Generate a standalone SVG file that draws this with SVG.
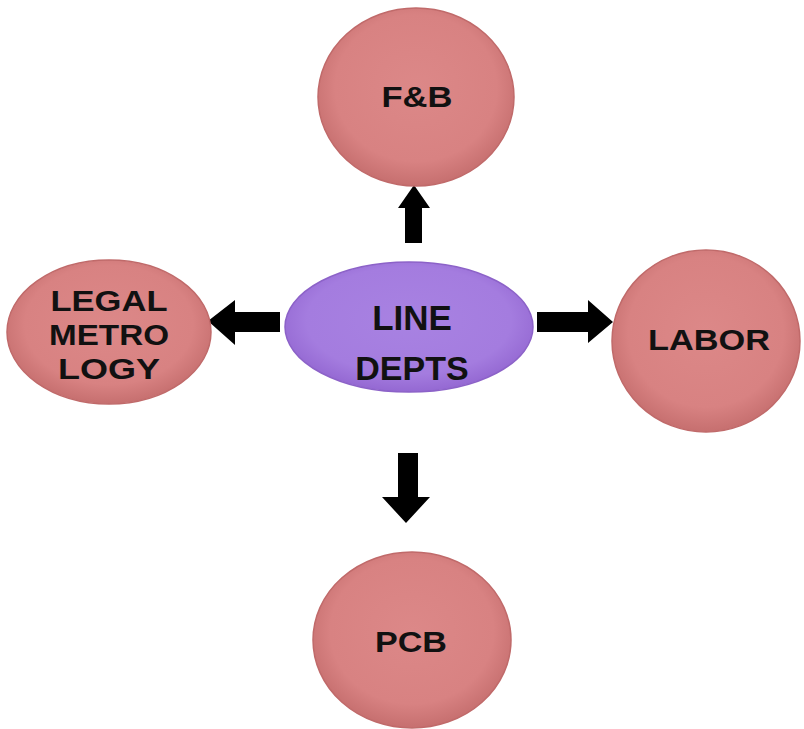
<svg xmlns="http://www.w3.org/2000/svg" width="804" height="729" viewBox="0 0 804 729">
<defs>
<radialGradient id="pink" cx="50%" cy="45%" r="55%">
<stop offset="0" stop-color="#dc8888"/>
<stop offset="0.75" stop-color="#d88282"/>
<stop offset="1" stop-color="#c66f6f"/>
</radialGradient>
<radialGradient id="purple" cx="50%" cy="45%" r="55%">
<stop offset="0" stop-color="#a882e2"/>
<stop offset="0.75" stop-color="#a47cdf"/>
<stop offset="1" stop-color="#9468d2"/>
</radialGradient>
</defs>
<style>
.p{fill:url(#pink);stroke:#c06a6a;stroke-width:1.5}
.c{fill:url(#purple);stroke:#8c62c8;stroke-width:1.5}
.t{font-family:"Liberation Sans",Arial,sans-serif;font-weight:bold;fill:#111;text-anchor:middle}
.a{fill:#000}
</style>
<rect width="804" height="729" fill="#fff"/>
<g id="connectors">
<polygon class="a" points="405,243 422,243 422,208 430,208 414,185 398,208 405,208"/>
<polygon class="a" points="280,312 280,332 235,332 235,345 208,321 235,300 235,312"/>
<polygon class="a" points="537,312 588,312 588,300 613,322 588,343 588,332 537,332"/>
<polygon class="a" points="398,453 418,453 418,497 430,497 406,523 382,497 398,497"/>
</g>
<g id="fb">
<ellipse class="p" cx="416" cy="97" rx="98" ry="89"/>
<text class="t" x="417" y="107" font-size="30" textLength="71" lengthAdjust="spacingAndGlyphs">F&amp;B</text>
</g>
<g id="legal">
<ellipse class="p" cx="109" cy="332" rx="102" ry="72"/>
<text class="t" x="109" y="311" font-size="29" textLength="117" lengthAdjust="spacingAndGlyphs">LEGAL</text>
<text class="t" x="109" y="345" font-size="29" textLength="120" lengthAdjust="spacingAndGlyphs">METRO</text>
<text class="t" x="109" y="379" font-size="29" textLength="102" lengthAdjust="spacingAndGlyphs">LOGY</text>
</g>
<g id="line">
<ellipse class="c" cx="409" cy="327" rx="124" ry="65"/>
<text class="t" x="412" y="330" font-size="35">LINE</text>
<text class="t" x="412" y="380" font-size="34">DEPTS</text>
</g>
<g id="labor">
<ellipse class="p" cx="706" cy="341" rx="94" ry="91"/>
<text class="t" x="709" y="350" font-size="29" textLength="122" lengthAdjust="spacingAndGlyphs">LABOR</text>
</g>
<g id="pcb">
<ellipse class="p" cx="412" cy="640" rx="99" ry="88"/>
<text class="t" x="411" y="652" font-size="29" textLength="72" lengthAdjust="spacingAndGlyphs">PCB</text>
</g>
</svg>
